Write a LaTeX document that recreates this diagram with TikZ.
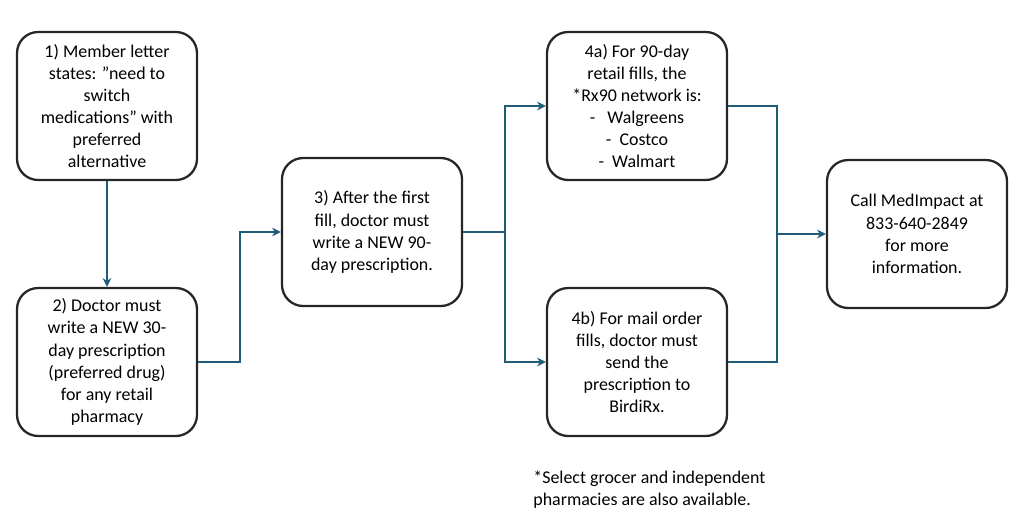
\documentclass[tikz,border=0pt]{standalone}
\usepackage{fontspec}
\setmainfont{Carlito}
\usetikzlibrary{arrows.meta}
\begin{document}
\begin{tikzpicture}[x=0.02cm,y=-0.02cm,
  box/.style={draw=black!85,line width=1.3pt,rounded corners=12pt,minimum width=3.6cm,minimum height=2.96cm,align=center,font=\fontsize{10.2pt}{12.6pt}\selectfont,inner sep=2pt},
  conn/.style={draw={rgb,255:red,31;green,92;blue,122},line width=1pt},
  arr/.style={conn,-{Stealth[length=5pt,width=5pt]}}]
\useasboundingbox (0,0) rectangle (1024,524);
\node[box] (b1) at (107,106) {1) Member letter\\states: \symbol{34}need to\\switch\\medications” with\\preferred\\alternative};
\node[box] (b2) at (107,362) {2) Doctor must\\write a NEW 30-\\day prescription\\(preferred drug)\\for any retail\\pharmacy};
\node[box] (b3) at (372,232) {3) After the first\\fill, doctor must\\write a NEW 90-\\day prescription.};
\node[box] (b4a) at (637,106) {4a) For 90-day\\retail fills, the\\*Rx90 network is:\\-\ \ \ Walgreens\\-\ \ Costco\\-\ \ Walmart};
\node[box] (b4b) at (637,362) {4b) For mail order\\fills, doctor must\\send the\\prescription to\\BirdiRx.};
\node[box] (b5) at (917,234) {Call MedImpact at\\833-640-2849\\for more\\information.};
\node[anchor=north west,align=left,font=\fontsize{10.2pt}{12.6pt}\selectfont,inner sep=0pt] (fn) at (533,470) {*Select grocer and independent\\pharmacies are also available.};
\coordinate (j1) at (240,362);
\coordinate (j3) at (505,232);
\coordinate (j5) at (777,234);
\draw[arr] (b1.south) -- (b2.north);
\draw[arr] (b2.east) -- (j1) |- (b3.west);
\draw[conn] (b3.east) -- (j3);
\draw[arr] (j3) |- (b4a.west);
\draw[arr] (j3) |- (b4b.west);
\draw[conn] (b4a.east) -| (j5);
\draw[conn] (b4b.east) -| (j5);
\draw[arr] (j5) -- (b5.west);
\end{tikzpicture}
\end{document}
